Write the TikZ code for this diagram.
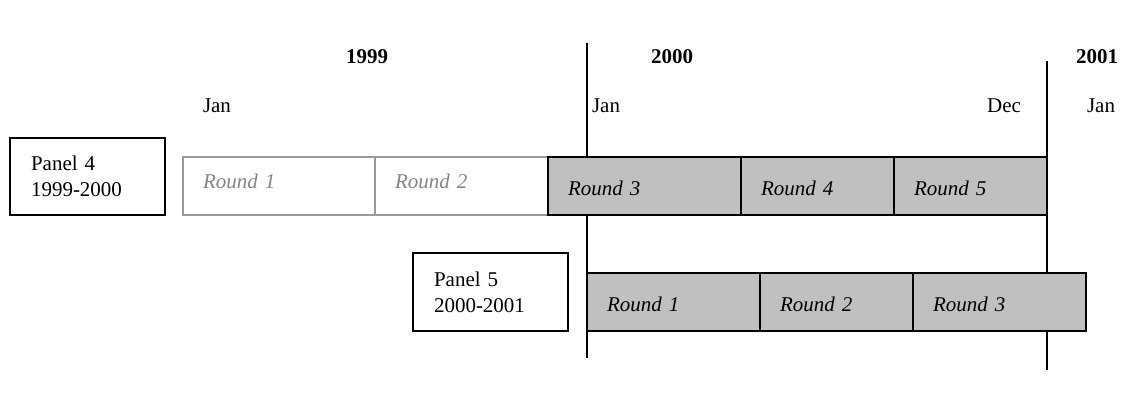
\documentclass[tikz,border=0pt]{standalone}
\usepackage{fontspec}
\setmainfont{Liberation Serif}
\usetikzlibrary{positioning}
\definecolor{roundfill}{HTML}{C0C0C0}
\definecolor{pastline}{HTML}{9A9A9A}
\definecolor{pasttext}{HTML}{858585}
\tikzset{
  basic/.style   = {rectangle, outer sep=0pt, line width=1.6pt, inner ysep=0pt,
                    align=left},
  panel/.style   = {basic, draw=black, inner xsep=21pt, text width=113pt,
                    font=\fontsize{21}{26}\selectfont},
  past/.style    = {basic, draw=pastline, text=pasttext, inner xsep=20pt,
                    minimum height=58pt, text height=14pt, text depth=9pt,
                    font=\fontsize{21}{25}\selectfont\itshape},
  current/.style = {basic, draw=black, fill=roundfill, inner xsep=20pt,
                    minimum height=58pt, text height=19pt, text depth=0pt,
                    font=\fontsize{21}{25}\selectfont\itshape},
  year/.style    = {font=\fontsize{21}{25}\selectfont\bfseries},
  month/.style   = {font=\fontsize{21}{25}\selectfont},
  divider/.style = {line width=1.6pt}
}

\begin{document}
\begin{tikzpicture}[x=1pt, y=-1pt]
  \useasboundingbox (0,0) rectangle (1129,401);

  % years and months
  \node[year] (y1999) at (367,57) {1999};
  \node[year] (y2000) at (672,57) {2000};
  \node[year] (y2001) at (1097,57) {2001};
  \node[month] (jan99) at (217,106) {Jan};
  \node[month] (jan00) at (606,106) {Jan};
  \node[month] (dec00) at (1004,106) {Dec};
  \node[month] (jan01) at (1101,106) {Jan};

  % year boundaries
  \coordinate (b00top) at (587,43);
  \coordinate (b00bot) at (587,358);
  \coordinate (b01top) at (1047,61);
  \coordinate (b01bot) at (1047,370);
  \draw[divider] (b00top) -- (b00bot);
  \draw[divider] (b01top) -- (b01bot);

  % Panel 4
  \node[panel, minimum height=77pt, anchor=north west] (p4) at (10,138)
    {Panel 4\\1999-2000};
  \node[past, text width=152pt, anchor=north west] (p4r1) at (183,157) {Round 1};
  \node[past, text width=133pt, right=0pt of p4r1] (p4r2) {Round 2};
  \node[current, text width=153pt, right=0pt of p4r2] (p4r3) {Round 3};
  \node[current, text width=113pt, right=0pt of p4r3] (p4r4) {Round 4};
  \node[current, text width=113pt, right=0pt of p4r4] (p4r5) {Round 5};

  % Panel 5
  \node[panel, minimum height=78pt, anchor=north west] (p5) at (413,253)
    {Panel 5\\2000-2001};
  \node[current, text width=133pt, anchor=north west] (p5r1) at (587,273) {Round 1};
  \node[current, text width=113pt, right=0pt of p5r1] (p5r2) {Round 2};
  \node[current, text width=133pt, right=0pt of p5r2] (p5r3) {Round 3};
\end{tikzpicture}
\end{document}
